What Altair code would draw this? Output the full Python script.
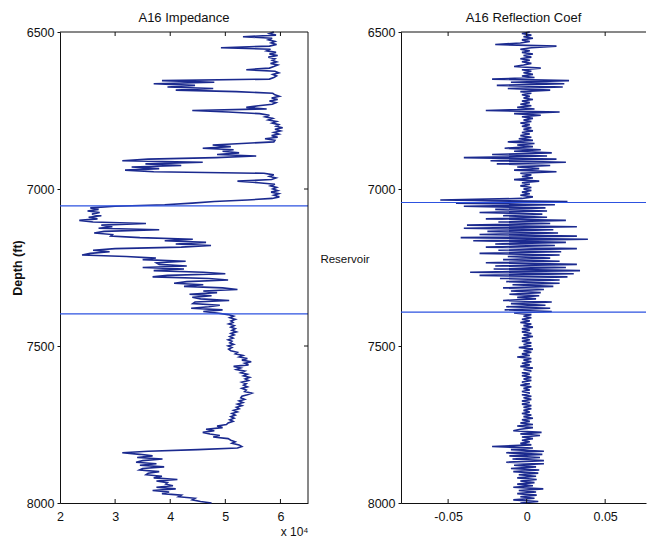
import altair as alt
import pandas as pd

# ---------------- data ----------------
DEPTH_START = 6500   # ft, first sample
DEPTH_STEP = 5       # ft, sample interval

# Acoustic impedance (units of 1e4), one value every 5 ft from 6500 to 8000 ft
impedance = [
    5.88, 5.80, 5.92, 5.32, 5.85, 5.78, 5.90, 5.83, 5.93, 5.80,
    4.92, 5.82, 5.75, 5.92, 5.80, 5.95, 5.78, 5.90, 5.85, 5.93,
    5.82, 5.95, 5.88, 5.80, 5.38, 5.90, 5.97, 5.86, 5.93, 5.88,
    5.80, 3.85, 4.80, 3.70, 4.45, 3.95, 4.78, 4.10, 5.20, 5.86,
    5.90, 5.98, 5.84, 5.95, 5.80, 5.92, 5.85, 5.60, 5.38, 5.75,
    4.40, 5.05, 5.62, 5.80, 5.72, 5.86, 5.78, 5.93, 5.85, 5.97,
    5.92, 6.04, 5.90, 6.00, 5.88, 5.97, 5.84, 5.95, 5.72, 5.90,
    5.88, 5.30, 4.77, 5.10, 4.59, 5.15, 4.95, 5.25, 4.85, 5.56,
    4.83, 3.60, 3.13, 4.59, 3.55, 4.20, 3.30, 3.80, 3.18, 3.70,
    5.70, 5.88, 5.80, 5.92, 5.84, 5.22, 5.60, 5.90, 5.82, 5.93,
    5.86, 5.95, 5.83, 5.97, 5.88, 5.98, 5.85, 5.40, 4.80, 4.40,
    3.90, 3.00, 2.55, 2.70, 2.50, 2.72, 2.58, 2.75, 2.52, 2.68,
    2.35, 2.60, 3.56, 2.75, 2.95, 2.70, 3.80, 2.80, 2.62, 2.95,
    2.92, 3.45, 4.41, 3.90, 4.65, 4.10, 4.74, 4.20, 3.00, 2.60,
    2.90, 2.55, 2.40, 3.20, 3.74, 3.50, 4.28, 3.75, 3.80, 4.30,
    3.50, 4.25, 3.70, 4.60, 5.00, 3.95, 3.68, 4.70, 5.05, 4.30,
    4.07, 4.60, 4.25, 4.95, 5.22, 4.60, 4.85, 4.35, 4.75, 4.40,
    4.55, 5.07, 4.45, 4.41, 4.90, 4.70, 4.38, 4.95, 4.60, 4.85,
    5.05, 5.15, 5.08, 5.18, 5.10, 5.14, 5.06, 5.16, 5.10, 5.18,
    5.12, 5.20, 5.10, 5.16, 5.08, 5.14, 5.05, 5.12, 5.08, 5.15,
    5.05, 5.12, 5.06, 5.10, 5.22, 5.18, 5.32, 5.25, 5.40, 5.30,
    5.47, 5.35, 5.42, 5.15, 5.28, 5.20, 5.35, 5.28, 5.40, 5.33,
    5.44, 5.36, 5.42, 5.30, 5.38, 5.33, 5.40, 5.30, 5.38, 5.35,
    5.48, 5.40, 5.30, 5.28, 5.35, 5.25, 5.32, 5.22, 5.30, 5.20,
    5.25, 5.15, 5.22, 5.12, 5.18, 5.10, 5.16, 5.08, 5.14, 5.05,
    5.02, 4.85, 4.95, 4.65, 4.80, 4.59, 4.72, 4.90, 4.78, 5.05,
    5.10, 5.18, 5.12, 5.25, 5.30, 5.22, 4.50, 3.60, 3.13, 3.45,
    3.68, 3.40, 3.86, 3.50, 3.38, 3.75, 3.45, 3.89, 3.50, 3.44,
    3.80, 3.60, 3.56, 3.85, 3.70, 4.13, 3.75, 3.95, 3.92, 4.05,
    3.75, 4.10, 3.68, 3.98, 3.85, 4.20, 4.15, 4.45, 4.40, 4.55,
    4.75,
]

# Reflection coefficient, one value every 5 ft from 6500 to 8000 ft
reflection = [
    0.002, -0.003, 0.003, -0.002, 0.004, -0.003, 0.002, -0.004, -0.020, 0.019,
    0.003, -0.004, 0.002, -0.003, 0.004, -0.002, 0.003, -0.004, 0.002, -0.003,
    0.003, -0.002, -0.008, 0.009, -0.003, 0.003, -0.002, 0.004, -0.003, 0.005,
    -0.022, 0.027, -0.010, 0.024, -0.019, 0.023, -0.012, 0.015, -0.004, 0.003,
    -0.003, 0.002, -0.002, 0.004, -0.003, 0.002, -0.004, 0.003, -0.006, 0.005,
    -0.026, 0.021, -0.008, 0.009, -0.003, 0.004, -0.002, 0.003, -0.004, 0.002,
    -0.003, 0.003, -0.002, 0.004, -0.003, 0.002, -0.004, 0.003, -0.005, 0.004,
    -0.012, 0.005, -0.006, 0.004, -0.014, 0.009, -0.008, 0.016, -0.022, 0.013,
    -0.040, 0.019, -0.023, 0.025, -0.019, 0.015, -0.006, 0.008, -0.008, 0.019,
    -0.004, 0.003, -0.003, 0.004, -0.008, 0.008, -0.003, 0.002, -0.004, 0.003,
    -0.002, 0.003, -0.003, 0.002, -0.004, 0.004, -0.003, -0.055, 0.026, -0.045,
    0.018, -0.040, 0.012, -0.020, 0.013, -0.030, 0.010, -0.015, 0.013, -0.026,
    0.025, -0.018, 0.015, -0.038, 0.032, -0.040, 0.017, -0.025, 0.020, -0.030,
    0.032, -0.042, 0.039, -0.034, 0.025, -0.020, 0.018, -0.026, 0.032, -0.018,
    0.022, -0.030, 0.021, -0.012, 0.015, -0.015, 0.021, -0.026, 0.032, -0.020,
    0.025, -0.021, 0.034, -0.036, 0.030, -0.030, 0.026, -0.017, 0.021, -0.013,
    0.021, -0.009, 0.017, -0.015, 0.011, -0.010, 0.009, -0.011, 0.008, -0.006,
    0.006, -0.015, 0.016, -0.010, 0.012, -0.013, 0.015, -0.014, 0.016, -0.008,
    0.003, -0.002, 0.003, -0.003, 0.002, -0.004, 0.003, -0.002, 0.004, -0.003,
    0.002, -0.003, 0.003, -0.002, 0.004, -0.003, 0.002, -0.003, 0.003, -0.002,
    0.003, -0.005, 0.004, -0.002, 0.003, -0.003, 0.002, -0.006, 0.003, -0.002,
    0.003, -0.003, 0.002, -0.004, 0.004, -0.002, 0.003, -0.003, 0.002, -0.003,
    0.003, -0.002, 0.003, -0.003, 0.002, -0.004, 0.003, -0.002, 0.002, -0.003,
    0.002, -0.003, 0.003, -0.002, 0.003, -0.003, 0.002, -0.003, 0.003, -0.002,
    0.003, -0.002, 0.002, -0.003, 0.003, -0.002, 0.004, -0.003, 0.002, -0.004,
    0.004, -0.006, 0.004, -0.004, -0.0085, 0.0095, -0.004, 0.0085, -0.003, 0.004,
    -0.003, 0.002, -0.004, 0.003, -0.022, 0.004, -0.010, 0.011, -0.013, 0.010,
    -0.011, 0.0085, -0.009, 0.011, -0.013, 0.011, -0.008, 0.006, -0.010, 0.008,
    -0.0085, 0.0074, -0.005, 0.006, -0.006, 0.0064, -0.004, 0.005, -0.006, 0.004,
    -0.0085, 0.0106, -0.005, 0.006, -0.006, 0.0064, -0.004, 0.005, -0.0085, 0.0074,
    -0.004,
]

# Reservoir top / base markers (ft)
reservoir_left = [7054, 7398]
reservoir_right = [7043, 7392]

depth_range = [6500, 8000]
depth_ticks = [6500, 7000, 7500, 8000]
imp_range = [2, 6.5]
imp_ticks = [2, 3, 4, 5, 6]
refl_range = [-0.08, 0.076]
refl_ticks = [-0.05, 0, 0.05]

# ---------------- styling ----------------
CURVE = "#1b2a8f"
MARKER = "#2d52e0"
INK = "#111111"
FONT = "Liberation Sans"
W1, W2, H = 248, 245, 471
TICK_PX = 4
TITLE_OFFSET = -12

imp_df = pd.DataFrame({
    "depth": [DEPTH_START + DEPTH_STEP * i for i in range(len(impedance))],
    "z": impedance,
})
refl_df = pd.DataFrame({
    "depth": [DEPTH_START + DEPTH_STEP * i for i in range(len(reflection))],
    "r": reflection,
})

y_scale = alt.Scale(domain=depth_range, reverse=True, nice=False, zero=False)


def y_enc(show_title):
    ax = alt.Axis(values=depth_ticks, format="d", grid=False, tickSize=3,
                  labelPadding=3, labelFontSize=12.5, labelFont=FONT, labelFlush=False,
                  labelColor=INK, domainColor=INK, tickColor=INK,
                  title="Depth (ft)" if show_title else "",
                  titleFont=FONT, titleFontSize=12.5, titleFontWeight="bold",
                  titleColor=INK, titlePadding=2)
    return alt.Y("depth:Q", scale=y_scale, axis=ax)


ft_per_px = (depth_range[1] - depth_range[0]) / H
tick_len_ft = TICK_PX * ft_per_px

# ---------- left panel: impedance ----------
x_imp_scale = alt.Scale(domain=imp_range, nice=False, zero=False)
x_imp = alt.X("z:Q", scale=x_imp_scale,
              axis=alt.Axis(values=imp_ticks, format="d", grid=False, tickSize=0,
                            labelPadding=7, labelFontSize=12.5, labelFont=FONT,
                            labelFlush=False, labelColor=INK, domainColor=INK,
                            title="x 10⁴", titleFont=FONT, titleFontSize=12,
                            titleFontWeight="normal", titleColor=INK,
                            titleAnchor="end", titleAlign="right", titlePadding=4))

imp_line = alt.Chart(imp_df).mark_line(color=CURVE, strokeWidth=1.6).encode(
    x=x_imp, y=y_enc(True), order="depth:Q")

res_left = alt.Chart(pd.DataFrame({"depth": reservoir_left})).mark_rule(
    color=MARKER, strokeWidth=1.2).encode(y=alt.Y("depth:Q", scale=y_scale))

# frame (top and right) and inward ticks
top_left = alt.Chart(pd.DataFrame({"depth": [depth_range[0]]})).mark_rule(
    color=INK, strokeWidth=1).encode(y=alt.Y("depth:Q", scale=y_scale))
right_left = alt.Chart(pd.DataFrame({"z": [imp_range[1]]})).mark_rule(
    color=INK, strokeWidth=1).encode(x=alt.X("z:Q", scale=x_imp_scale))

imp_tick_rows = []
for v in imp_ticks[1:]:
    imp_tick_rows.append({"z": v, "d1": depth_range[1], "d2": depth_range[1] - tick_len_ft})
    imp_tick_rows.append({"z": v, "d1": depth_range[0], "d2": depth_range[0] + tick_len_ft})
imp_tick_marks = alt.Chart(pd.DataFrame(imp_tick_rows)).mark_rule(color=INK).encode(
    x=alt.X("z:Q", scale=x_imp_scale),
    y=alt.Y("d1:Q", scale=y_scale), y2="d2:Q")

z_per_px = (imp_range[1] - imp_range[0]) / W1
side_rows = [{"z1": imp_range[1], "z2": imp_range[1] - TICK_PX * z_per_px, "depth": d}
             for d in depth_ticks[1:-1]]
side_ticks = alt.Chart(pd.DataFrame(side_rows)).mark_rule(color=INK).encode(
    x=alt.X("z1:Q", scale=x_imp_scale), x2="z2:Q",
    y=alt.Y("depth:Q", scale=y_scale))

left = alt.layer(imp_line, res_left, top_left, right_left, imp_tick_marks, side_ticks).properties(
    width=W1, height=H,
    title=alt.TitleParams("A16 Impedance", font=FONT, fontSize=13, fontWeight="normal",
                          color=INK, offset=TITLE_OFFSET, baseline="bottom"))

# ---------- right panel: reflection coefficient ----------
x_ref_scale = alt.Scale(domain=refl_range, nice=False, zero=False)
x_ref = alt.X("r:Q", scale=x_ref_scale,
              axis=alt.Axis(values=refl_ticks, grid=False, tickSize=0, labelPadding=7,
                            labelFontSize=12.5, labelFont=FONT, labelColor=INK,
                            labelFlush=False, domainColor=INK, title="",
                            labelExpr="datum.value == 0 ? '0' : (datum.value < 0 ? '-' + format(-datum.value, '.2f') : format(datum.value, '.2f'))"))

ref_line = alt.Chart(refl_df).mark_line(color=CURVE, strokeWidth=1.6).encode(
    x=x_ref, y=y_enc(False), order="depth:Q")

res_right = alt.Chart(pd.DataFrame({"depth": reservoir_right})).mark_rule(
    color=MARKER, strokeWidth=1.2).encode(y=alt.Y("depth:Q", scale=y_scale))

top_right = alt.Chart(pd.DataFrame({"depth": [depth_range[0]]})).mark_rule(
    color=INK, strokeWidth=1).encode(y=alt.Y("depth:Q", scale=y_scale))

ref_tick_rows = []
for v in refl_ticks:
    ref_tick_rows.append({"r": v, "d1": depth_range[1], "d2": depth_range[1] - tick_len_ft})
    ref_tick_rows.append({"r": v, "d1": depth_range[0], "d2": depth_range[0] + tick_len_ft})
ref_tick_marks = alt.Chart(pd.DataFrame(ref_tick_rows)).mark_rule(color=INK).encode(
    x=alt.X("r:Q", scale=x_ref_scale),
    y=alt.Y("d1:Q", scale=y_scale), y2="d2:Q")

label_df = pd.DataFrame({"depth": [sum(reservoir_left) / 2], "label": ["Reservoir"]})
res_label = alt.Chart(label_df).mark_text(
    font=FONT, fontSize=11.5, color=INK, align="center", baseline="middle", dx=-56
).encode(x=alt.datum(refl_range[0]), y=alt.Y("depth:Q", scale=y_scale), text="label:N")

right = alt.layer(ref_line, res_right, top_right, ref_tick_marks, res_label).properties(
    width=W2, height=H,
    title=alt.TitleParams("A16 Reflection Coef", font=FONT, fontSize=13, fontWeight="normal",
                          color=INK, offset=TITLE_OFFSET, baseline="bottom"))

chart = alt.hconcat(left, right, spacing=93, bounds="flush").properties(
    padding={"left": 11, "top": 12, "right": 0, "bottom": 0},
    background="white",
).configure_view(strokeWidth=0).configure_axis(domainWidth=1)

chart.save("out.html", embed_options={"renderer": "svg", "actions": False})
